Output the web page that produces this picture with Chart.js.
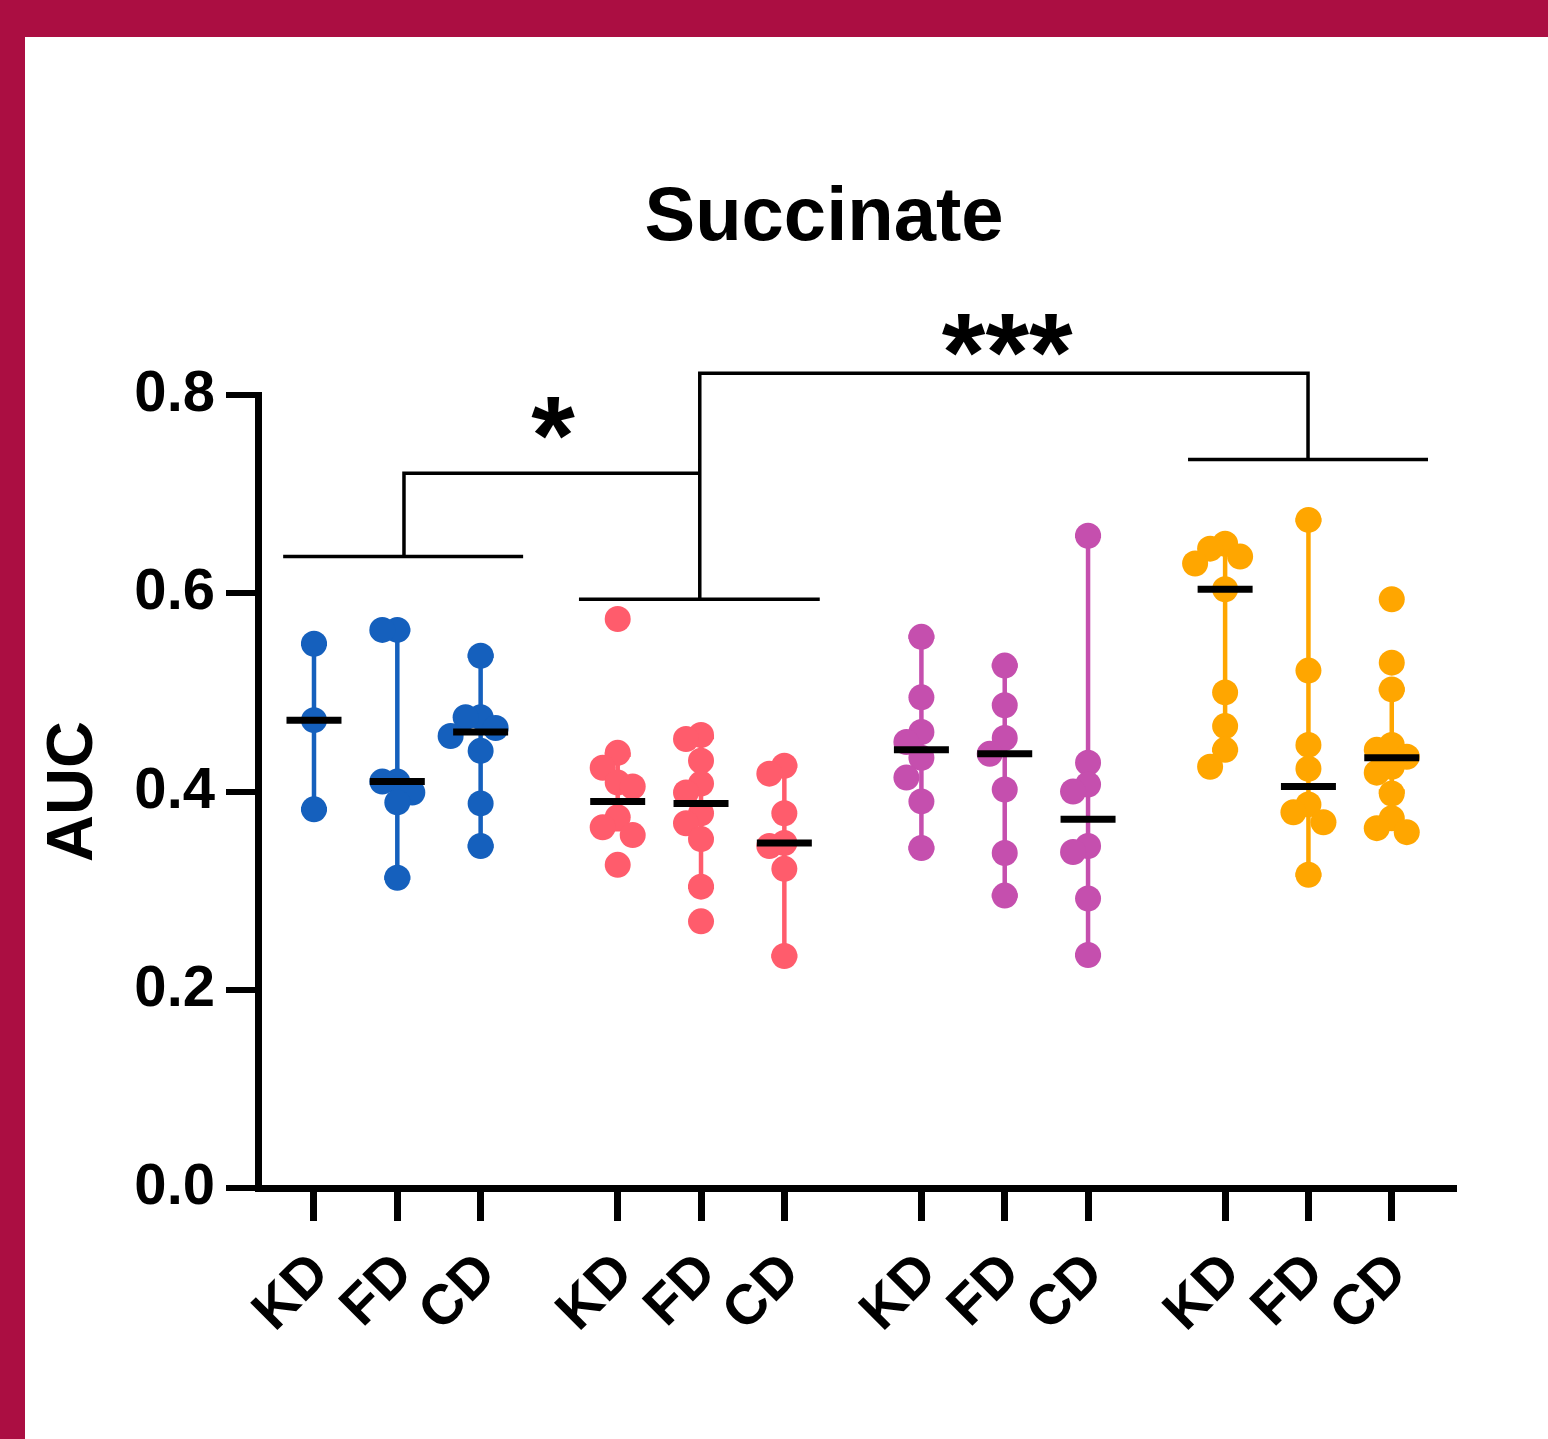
<!DOCTYPE html>
<html>
<head>
<meta charset="utf-8">
<script src="https://cdn.jsdelivr.net/npm/chart.js@4.4.1/dist/chart.umd.min.js"></script>
<style>
html, body { margin: 0; padding: 0; background: #fff; }
#frame { position: absolute; left: 0; top: 0; width: 1523px; height: 1402px; border-top: 37px solid #ab0e42; border-left: 25px solid #ab0e42; background: #fff; }
canvas { display: block; }
</style>
</head>
<body>
<div id="frame"><canvas id="auc" width="1523" height="1402"></canvas></div>
<script>
// categories
var diets = ['KD', 'FD', 'CD'];
var colours = ['#1560bd', '#ff5c6c', '#c54fae', '#ffa600'];

// AUC values
var blueKD = [0.549, 0.472, 0.382];
var blueFD = [0.563, 0.563, 0.410, 0.410, 0.399, 0.389, 0.313];
var blueCD = [0.537, 0.475, 0.475, 0.464, 0.456, 0.441, 0.388, 0.345];
var redKD = [0.574, 0.439, 0.424, 0.409, 0.405, 0.374, 0.364, 0.356, 0.326];
var redFD = [0.457, 0.453, 0.431, 0.408, 0.399, 0.378, 0.368, 0.352, 0.304, 0.269];
var redCD = [0.426, 0.418, 0.378, 0.348, 0.345, 0.322, 0.234];
var purpleKD = [0.556, 0.495, 0.460, 0.450, 0.434, 0.414, 0.390, 0.343];
var purpleFD = [0.527, 0.487, 0.454, 0.438, 0.402, 0.338, 0.295];
var purpleCD = [0.658, 0.429, 0.407, 0.400, 0.345, 0.339, 0.292, 0.235];
var orangeKD = [0.650, 0.645, 0.637, 0.630, 0.604, 0.500, 0.466, 0.442, 0.425];
var orangeFD = [0.674, 0.522, 0.447, 0.423, 0.387, 0.379, 0.369, 0.316];
var orangeCD = [0.594, 0.530, 0.503, 0.447, 0.442, 0.435, 0.425, 0.419, 0.398, 0.373, 0.363, 0.359];

// median and interquartile bars (KD, FD, CD)
var blueMedian = [0.472, 0.410, 0.460];
var blueLow = [0.382, 0.313, 0.345];
var blueHigh = [0.549, 0.563, 0.537];
var redMedian = [0.390, 0.388, 0.348];
var redLow = [0.362, 0.304, 0.234];
var redHigh = [0.437, 0.455, 0.426];
var purpleMedian = [0.442, 0.438, 0.372];
var purpleLow = [0.343, 0.295, 0.235];
var purpleHigh = [0.556, 0.527, 0.658];
var orangeMedian = [0.604, 0.405, 0.434];
var orangeLow = [0.442, 0.316, 0.400];
var orangeHigh = [0.640, 0.674, 0.503];

var yTicks = [0, 0.2, 0.4, 0.6, 0.8];

// significance brackets (x in category units, y in AUC)
var bracketLines = [
    [[-0.37, 0.637], [2.51, 0.637]],
    [[1.08, 0.637], [1.08, 0.721], [4.63, 0.721]],
    [[3.18, 0.594], [6.07, 0.594]],
    [[4.63, 0.594], [4.63, 0.822], [11.93, 0.822], [11.93, 0.735]],
    [[10.49, 0.735], [13.37, 0.735]]
];
var stars = [
    { text: '*', x: 2.87, y: 0.777 },
    { text: '***', x: 8.32, y: 0.861 }
];

var groups = [
    { values: [blueKD, blueFD, blueCD], median: blueMedian, low: blueLow, high: blueHigh },
    { values: [redKD, redFD, redCD], median: redMedian, low: redLow, high: redHigh },
    { values: [purpleKD, purpleFD, purpleCD], median: purpleMedian, low: purpleLow, high: purpleHigh },
    { values: [orangeKD, orangeFD, orangeCD], median: orangeMedian, low: orangeLow, high: orangeHigh }
];

var groupStep = 3.645;
var PX_X = 83.3, PX_Y = 991; // rough pixels per unit, only used to spread the dots

// simple beeswarm: dots on the same column may not be closer than ~20px vertically
function swarm(values, centre) {
    var placed = [];
    var out = [];
    var order = values.map(function(v, i) { return i; }).sort(function(a, b) { return values[b] - values[a]; });
    order.forEach(function(i) {
        var v = values[i];
        var steps = [0, -1, 1, -2, 2, -3, 3];
        for (var k = 0; k < steps.length; k++) {
            var dx = steps[k] * 15;
            var ok = placed.every(function(p) {
                return Math.abs(p.dx - dx) >= 12 || Math.abs(p.v - v) * PX_Y >= 20;
            });
            if (ok) {
                placed.push({ dx: dx, v: v });
                out[i] = { x: centre + dx / PX_X, y: v };
                break;
            }
        }
    });
    return out;
}

var tickPos = [];
var tickLabels = [];
var datasets = [];
var cap = 0.156, half = 0.33;

groups.forEach(function(g, gi) {
    diets.forEach(function(d, di) {
        var x = gi * groupStep + di;
        tickPos.push(x);
        tickLabels.push(d);
        datasets.push({
            data: swarm(g.values[di], x),
            backgroundColor: colours[gi],
            pointRadius: 13,
            pointHoverRadius: 13,
            pointBorderWidth: 0,
            order: 1
        });
        datasets.push({
            data: [
                { x: x - cap, y: g.low[di] }, { x: x + cap, y: g.low[di] }, { x: x, y: null },
                { x: x, y: g.low[di] }, { x: x, y: g.high[di] }, { x: x, y: null },
                { x: x - cap, y: g.high[di] }, { x: x + cap, y: g.high[di] }
            ],
            showLine: true,
            spanGaps: false,
            borderColor: colours[gi],
            borderWidth: 4.5,
            pointRadius: 0,
            order: 2
        });
        datasets.push({
            data: [{ x: x - half, y: g.median[di] }, { x: x + half, y: g.median[di] }],
            showLine: true,
            borderColor: '#000',
            borderWidth: 7,
            borderCapStyle: 'butt',
            pointRadius: 0,
            order: 0
        });
    });
});

bracketLines.forEach(function(line) {
    datasets.push({
        data: line.map(function(p) { return { x: p[0], y: p[1] }; }),
        showLine: true,
        borderColor: '#000',
        borderWidth: 3.5,
        borderJoinStyle: 'miter',
        pointRadius: 0,
        clip: false,
        order: 3
    });
});

var textPlugin = {
    id: 'texts',
    afterDraw: function(chart) {
        var ctx = chart.ctx;
        ctx.save();
        ctx.fillStyle = '#000';
        ctx.textAlign = 'center';
        ctx.textBaseline = 'alphabetic';
        ctx.font = 'bold 76px "Liberation Sans", Arial, sans-serif';
        ctx.fillText('Succinate', 799, 203);
        ctx.font = 'bold 112px "Liberation Sans", Arial, sans-serif';
        stars.forEach(function(s) {
            var m = ctx.measureText(s.text);
            var cx = chart.scales.x.getPixelForValue(s.x);
            var cy = chart.scales.y.getPixelForValue(s.y);
            ctx.fillText(s.text, cx, cy + (m.actualBoundingBoxAscent - m.actualBoundingBoxDescent) / 2);
        });
        ctx.restore();
    }
};

Chart.defaults.font.family = '"Liberation Sans", Arial, sans-serif';

new Chart(document.getElementById('auc'), {
    type: 'scatter',
    data: { datasets: datasets },
    options: {
        responsive: false,
        animation: false,
        events: [],
        layout: { padding: { top: 358, right: 95, left: 0, bottom: 0 } },
        plugins: {
            legend: { display: false },
            tooltip: { enabled: false }
        },
        scales: {
            x: {
                type: 'linear',
                min: -0.672,
                max: 13.67,
                afterBuildTicks: function(axis) {
                    axis.ticks = tickPos.map(function(v) { return { value: v }; });
                },
                afterFit: function(axis) { axis.height = 251; },
                border: { color: '#000', width: 7 },
                grid: { drawOnChartArea: false, color: '#000', lineWidth: 7, tickLength: 33 },
                ticks: {
                    autoSkip: false,
                    minRotation: 45,
                    maxRotation: 45,
                    padding: 20,
                    labelOffset: 7,
                    color: '#000',
                    font: { size: 56, weight: 'bold' },
                    callback: function(v) {
                        for (var i = 0; i < tickPos.length; i++) {
                            if (Math.abs(tickPos[i] - v) < 1e-6) return tickLabels[i];
                        }
                        return '';
                    }
                }
            },
            y: {
                min: 0,
                max: 0.8,
                afterBuildTicks: function(axis) {
                    axis.ticks = yTicks.map(function(v) { return { value: v }; });
                },
                afterFit: function(axis) { axis.width = 233; },
                border: { color: '#000', width: 7 },
                grid: { drawOnChartArea: false, color: '#000', lineWidth: 6, tickLength: 32 },
                ticks: {
                    padding: 11,
                    color: '#000',
                    font: { size: 58, weight: 'bold' },
                    callback: function(v) { return v.toFixed(1); }
                },
                title: {
                    display: true,
                    text: 'AUC',
                    color: '#000',
                    font: { size: 65, weight: 'bold' },
                    padding: { top: 10, bottom: 0 }
                }
            }
        }
    },
    plugins: [textPlugin]
});
</script>
</body>
</html>
